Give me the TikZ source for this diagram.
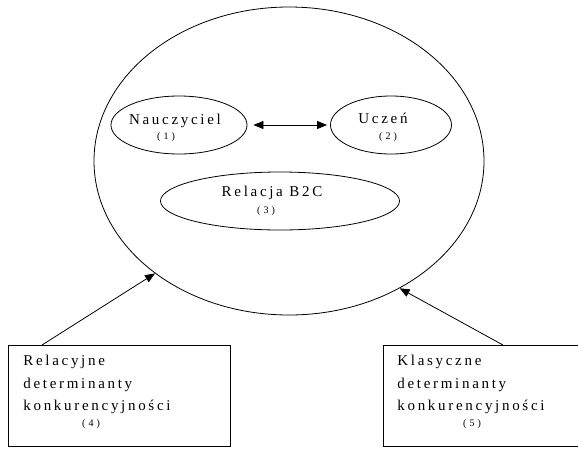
\documentclass[tikz,border=0pt]{standalone}
\usepackage{fontspec}
\setmainfont{Liberation Serif}[LetterSpace=18]
\newfontfamily\numfont{Liberation Serif}[LetterSpace=30]
\usetikzlibrary{shapes.geometric,arrows.meta}

\tikzset{
  oval/.style={draw, ellipse, inner sep=0pt},
  txt/.style={inner sep=0pt, font=\fontsize{15}{18}\selectfont},
  num/.style={inner sep=0pt, font=\numfont\fontsize{10}{12}\selectfont},
  boxtxt/.style={inner sep=0pt, anchor=west, font=\fontsize{15}{18}\selectfont},
  arr/.style={-{Triangle[length=10pt,width=8pt]}}
}

\begin{document}
\begin{tikzpicture}[x=1pt, y=-1pt, line width=0.8pt]
    \useasboundingbox (0,0) rectangle (578,448);

    % duza elipsa
    \node[oval, minimum width=390pt, minimum height=308pt] (outer) at (289,161) {};

    % male elipsy
    \node[oval, minimum width=136pt, minimum height=58pt] (naucz) at (179,125) {};
    \node[oval, minimum width=121pt, minimum height=58pt] (uczen) at (391,125) {};
    \node[oval, minimum width=239pt, minimum height=58pt] (relacja) at (280,201) {};

    \node[txt] (t1) at (175,121) {Nauczyciel};
    \node[num] (n1) at (166,137) {(1)};
    \node[txt] (t2) at (383,118) {Uczeń};
    \node[num] (n2) at (388,137) {(2)};
    \node[txt] (t3) at (272,193) {Relacja B2C};
    \node[num] (n3) at (266,211) {(3)};

    \draw[{Triangle[length=10pt,width=8pt]}-{Triangle[length=10pt,width=8pt]}]
        ([xshift=6pt]naucz.east) -- ([xshift=-3pt]uczen.west);

    % prostokaty
    \draw (8,345) rectangle (230,446);
    \draw (383,345) rectangle (590,446);
    \coordinate (s4) at (42,345);
    \coordinate (s5) at (503,345);

    \node[boxtxt] (r1) at (23,362) {Relacyjne};
    \node[boxtxt] (r2) at (23,385) {determinanty};
    \node[boxtxt] (r3) at (23,407) {konkurencyjności};
    \node[num] (n4) at (91,424) {(4)};

    \node[boxtxt] (k1) at (397,362) {Klasyczne};
    \node[boxtxt] (k2) at (397,385) {determinanty};
    \node[boxtxt] (k3) at (397,407) {konkurencyjności};
    \node[num] (n5) at (472,424) {(5)};

    % strzalki
    \draw[arr] (s4) -- (outer.220.6);
    \draw[arr] (s5) -- (outer.311.9);
\end{tikzpicture}
\end{document}
